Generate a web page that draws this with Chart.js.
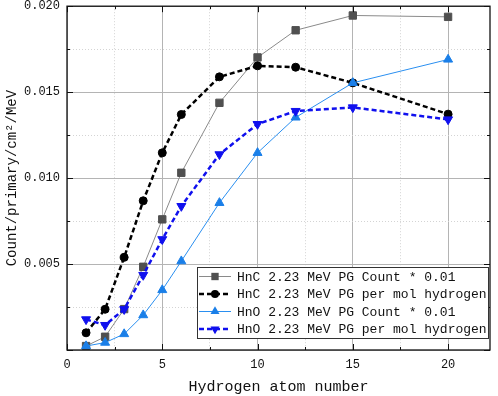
<!DOCTYPE html>
<html>
<head>
<meta charset="utf-8">
<script src="https://cdn.jsdelivr.net/npm/chart.js"></script>
<style>
  body { margin: 0; background: #fff; }
  #wrap { width: 498px; height: 396px; }
</style>
</head>
<body>
<div id="wrap"><canvas id="myChart" width="498" height="396"></canvas></div>
<script>
  // x values: number of hydrogen atoms
  const hydrogenAtoms = [1, 2, 3, 4, 5, 6, 8, 10, 12, 15, 20];

  // series
  const hncCount  = [0.00023, 0.00077, 0.00238, 0.00484, 0.0076, 0.01031, 0.01438, 0.01702, 0.0186, 0.01946, 0.01938];
  const hncPerMol = [0.0010, 0.00237, 0.00539, 0.00868, 0.01147, 0.0137, 0.01589, 0.01653, 0.01645, 0.01554, 0.01372];
  const hnoCount  = [0.00023, 0.00043, 0.00093, 0.00203, 0.00349, 0.00517, 0.00856, 0.01147, 0.01353, 0.01554, 0.0169];
  const hnoPerMol = [0.00178, 0.00145, 0.00237, 0.00436, 0.00644, 0.00837, 0.01138, 0.01314, 0.0139, 0.01411, 0.01341];

  const seriesLabels = [
    'HnC 2.23 MeV PG Count * 0.01',
    'HnC 2.23 MeV PG per mol hydrogen',
    'HnO 2.23 MeV PG Count * 0.01',
    'HnO 2.23 MeV PG per mol hydrogen'
  ];

  const FONT = '"Liberation Mono", "DejaVu Sans Mono", monospace';

  function toXY(ys) {
    return ys.map((y, i) => ({ x: hydrogenAtoms[i], y: y }));
  }

  // style of each series, also reused by the legend
  const styles = [
    { line: '#8a8a8a', fill: '#505050', width: 1, dash: [], shape: 'rect', radius: 5.2 },
    { line: '#000000', fill: '#000000', width: 2.5, dash: [5, 3], shape: 'circle', radius: 4 },
    { line: '#2a8ff0', fill: '#1a7fe8', width: 1, dash: [], shape: 'triangle', radius: 5.2 },
    { line: '#1010ee', fill: '#1010ee', width: 2.5, dash: [5, 3], shape: 'triangleDown', radius: 5.2 }
  ];
  const allData = [hncCount, hncPerMol, hnoCount, hnoPerMol];

  const datasets = allData.map((d, i) => {
    const s = styles[i];
    return {
      label: seriesLabels[i],
      data: toXY(d),
      borderColor: s.line,
      borderWidth: s.width,
      borderDash: s.dash,
      backgroundColor: s.fill,
      pointBackgroundColor: s.fill,
      pointBorderColor: s.fill,
      pointBorderWidth: 1,
      pointStyle: s.shape == 'triangleDown' ? 'triangle' : s.shape,
      rotation: s.shape == 'triangleDown' ? 180 : 0,
      pointRadius: s.radius,
      tension: 0,
      order: 4 - i
    };
  });

  function isMult(v, step) {
    const r = v / step;
    return Math.abs(r - Math.round(r)) < 1e-6;
  }

  // draw one legend marker by hand
  function drawMarker(ctx, shape, x, y, r, color) {
    ctx.save();
    ctx.fillStyle = color;
    ctx.beginPath();
    if (shape == 'rect') {
      const h = r * Math.SQRT1_2;
      ctx.rect(x - h, y - h, 2 * h, 2 * h);
    } else if (shape == 'circle') {
      ctx.arc(x, y, r, 0, Math.PI * 2);
    } else if (shape == 'triangle') {
      ctx.moveTo(x, y - r);
      ctx.lineTo(x + r * 0.866, y + r * 0.5);
      ctx.lineTo(x - r * 0.866, y + r * 0.5);
    } else {
      ctx.moveTo(x, y + r);
      ctx.lineTo(x + r * 0.866, y - r * 0.5);
      ctx.lineTo(x - r * 0.866, y - r * 0.5);
    }
    ctx.closePath();
    ctx.fill();
    ctx.restore();
  }

  // frame, inward ticks and the boxed legend
  const framePlugin = {
    id: 'frame',
    afterDraw(chart) {
      const ctx = chart.ctx;
      const a = chart.chartArea;
      const xs = chart.scales.x, ys = chart.scales.y;
      ctx.save();
      ctx.strokeStyle = '#111';
      ctx.lineWidth = 1.3;
      ctx.strokeRect(a.left, a.top, a.right - a.left, a.bottom - a.top);

      ctx.lineWidth = 1;
      ctx.beginPath();
      xs.ticks.forEach(t => {
        const px = Math.round(xs.getPixelForValue(t.value)) + 0.5;
        const len = isMult(t.value, 5) ? 6 : 3;
        ctx.moveTo(px, a.bottom); ctx.lineTo(px, a.bottom - len);
        ctx.moveTo(px, a.top); ctx.lineTo(px, a.top + len);
      });
      ys.ticks.forEach(t => {
        const py = Math.round(ys.getPixelForValue(t.value)) + 0.5;
        const len = isMult(t.value, 0.005) ? 6 : 3;
        ctx.moveTo(a.left, py); ctx.lineTo(a.left + len, py);
        ctx.moveTo(a.right, py); ctx.lineTo(a.right - len, py);
      });
      ctx.stroke();

      // legend box
      const bx = 197, by = 267, bw = 291, bh = 71;
      ctx.fillStyle = '#fff';
      ctx.fillRect(bx, by, bw, bh);
      ctx.strokeStyle = '#333';
      ctx.lineWidth = 1;
      ctx.strokeRect(bx + 0.5, by + 0.5, bw, bh);
      ctx.font = '13px ' + FONT;
      ctx.textBaseline = 'middle';
      styles.forEach((s, i) => {
        const cy = by + 9.5 + i * 17.5;
        ctx.strokeStyle = s.line;
        ctx.lineWidth = s.width;
        ctx.setLineDash(s.dash);
        ctx.beginPath();
        ctx.moveTo(bx + 2, cy); ctx.lineTo(bx + 34, cy);
        ctx.stroke();
        ctx.setLineDash([]);
        drawMarker(ctx, s.shape, bx + 18, cy, s.radius, s.fill);
        ctx.fillStyle = '#111';
        ctx.fillText(seriesLabels[i], bx + 40, cy + 1);
      });
      ctx.restore();
    }
  };

  const canvas = document.getElementById('myChart');
  const chart = new Chart(canvas, {
    type: 'line',
    data: { datasets: datasets },
    plugins: [framePlugin],
    options: {
      responsive: false,
      animation: false,
      layout: { padding: { top: 0, right: 8, left: 0, bottom: 0 } },
      plugins: { legend: { display: false }, tooltip: { enabled: false } },
      scales: {
        x: {
          type: 'linear',
          min: 0,
          max: 22.2,
          afterFit(scale) { scale.height = 46; scale.paddingRight = 0; },
          border: {
            display: false,
            dash: (c) => (c.tick && !isMult(c.tick.value, 5)) ? [1, 2] : []
          },
          grid: {
            drawTicks: false,
            color: (c) => (c.tick && isMult(c.tick.value, 5)) ? '#b4b4b4' : '#d4d4d4'
          },
          ticks: {
            stepSize: 2.5,
            includeBounds: false,
            autoSkip: false,
            maxRotation: 0,
            padding: 8,
            color: '#111',
            font: { family: FONT, size: 12 },
            callback: (v) => isMult(v, 5) ? String(Math.round(v)) : ''
          },
          title: {
            display: true,
            text: 'Hydrogen atom number',
            color: '#111',
            font: { family: FONT, size: 15 },
            padding: { top: 4, bottom: 0 }
          }
        },
        y: {
          type: 'linear',
          min: 0,
          max: 0.02,
          afterFit(scale) { scale.width = 67; scale.paddingTop = 6; },
          border: {
            display: false,
            dash: (c) => (c.tick && !isMult(c.tick.value, 0.005)) ? [1, 2] : []
          },
          grid: {
            drawTicks: false,
            color: (c) => (c.tick && isMult(c.tick.value, 0.005)) ? '#b4b4b4' : '#d4d4d4'
          },
          ticks: {
            stepSize: 0.0025,
            autoSkip: false,
            padding: 7,
            color: '#111',
            font: { family: FONT, size: 12 },
            callback: (v) => (v > 1e-9 && isMult(v, 0.005)) ? v.toFixed(3) : ''
          },
          title: {
            display: true,
            text: 'Count/primary/cm²/MeV',
            color: '#111',
            font: { family: FONT, size: 14 },
            padding: { top: 4, bottom: 0 }
          }
        }
      }
    }
  });
</script>
</body>
</html>
